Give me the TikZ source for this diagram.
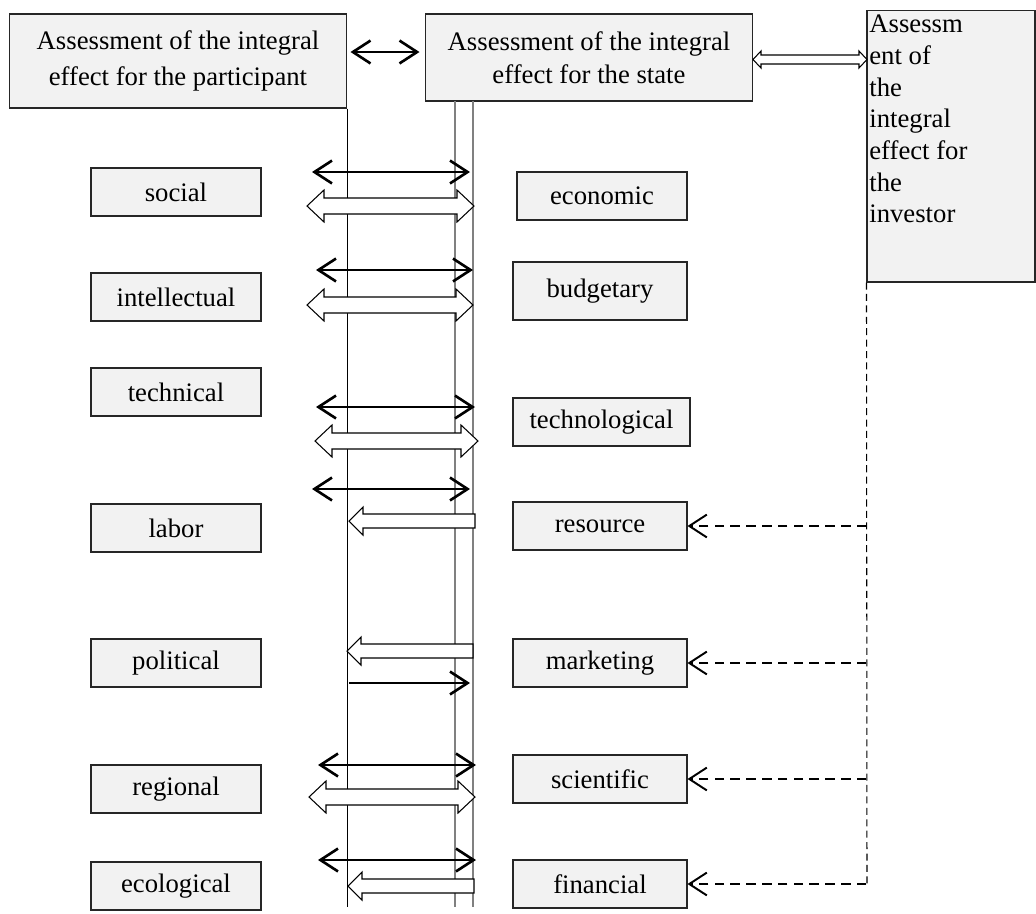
\documentclass[tikz,border=0pt]{standalone}
\usepackage{fontspec}
\setmainfont{Liberation Serif}
\usetikzlibrary{arrows.meta}

\tikzset{
  box/.style={draw=black!85, fill=black!5, line width=0.6pt, inner sep=0pt, align=center,
    font=\fontsize{15.2}{20}\selectfont},
  leftbox/.style={box, minimum width=3.4cm, minimum height=0.96cm},
  rightbox/.style={box, minimum width=3.48cm, minimum height=0.96cm},
  barb/.tip={Straight Barb[length=10pt,width=13pt]},
  twoway/.style={barb-barb, line width=1.5pt},
  oneway/.style={-barb, line width=1.5pt},
  hollow/.style={draw=black, line width=0.6pt, fill=white},
  feed/.style={-barb, dash pattern=on 5.5pt off 3.5pt, line width=1.1pt},
  guide/.style={line width=0.6pt},
}

% outline arrows: left x, right x, y
\newcommand{\hollowboth}[3]{%
  \draw[hollow] (#1,#3) -- ({#1+17},{#3-16}) -- ({#1+17},{#3-8}) -- ({#2-17},{#3-8})
    -- ({#2-17},{#3-16}) -- (#2,#3) -- ({#2-17},{#3+16}) -- ({#2-17},{#3+8})
    -- ({#1+17},{#3+8}) -- ({#1+17},{#3+16}) -- cycle;}
% tip x, tail x, y
\newcommand{\hollowleft}[3]{%
  \draw[hollow] (#1,#3) -- ({#1+14},{#3-14}) -- ({#1+14},{#3-7}) -- (#2,{#3-7})
    -- (#2,{#3+7}) -- ({#1+14},{#3+7}) -- ({#1+14},{#3+14}) -- cycle;}

\begin{document}
\begin{tikzpicture}[x=0.02cm, y=-0.02cm]
  \useasboundingbox (0,0) rectangle (1036,914);

  % top row
  \node[box, minimum width=6.76cm, minimum height=1.88cm] (part) at (178,61)
    {Assessment of the integral\\effect for the participant};
  \node[box, minimum width=6.56cm, minimum height=1.74cm, font=\fontsize{15.2}{18.5}\selectfont]
    (state) at (589,57.5) {Assessment of the integral\\effect for the state};
  \node[box, minimum width=3.36cm, minimum height=5.44cm] (inv) at (951,146) {};
  \node[anchor=north west, inner sep=0pt, align=left,
    font=\fontsize{15.2}{18}\selectfont] (invtext) at (869,15)
    {Assessm\\ent of\\the\\integral\\effect for\\the\\investor};

  % vertical guides
  \draw[guide] (part.south east) -- (part.south east |- 0,907);
  \draw[guide, gray] (455,101) -- (455,907);
  \draw[guide, gray] (473,101) -- (473,907);
  \draw[guide, dash pattern=on 4pt off 2.5pt] (inv.south west) -- (867,884);

  % left column
  \node[leftbox] (social) at (176,192) {social};
  \node[leftbox] (intel) at (176,297) {intellectual};
  \node[leftbox] (techn) at (176,392) {technical};
  \node[leftbox] (labor) at (176,528) {labor};
  \node[leftbox] (polit) at (176,663) {political};
  \node[leftbox] (region) at (176,789) {regional};
  \node[leftbox] (ecol) at (176,886) {ecological};

  % right column
  \node[rightbox, minimum width=3.4cm] (econ) at (602,196) {economic};
  \node[rightbox, minimum height=1.16cm] (budget) at (600,291) {budgetary};
  \node[rightbox, minimum width=3.54cm] (techno) at (601.5,422) {technological};
  \node[rightbox] (res) at (600,526) {resource};
  \node[rightbox] (market) at (600,663) {marketing};
  \node[rightbox] (sci) at (600,779) {scientific};
  \node[rightbox] (fin) at (600,884) {financial};

  % links between the assessments
  \draw[twoway] ([shift={(3,-9)}]part.east) -- ([shift={(-5,-5.5)}]state.west);
  \draw[hollow] (753,59.5) -- (761,51) -- (761,55) -- (859,55) -- (859,51) -- (867,59.5)
    -- (859,68) -- (859,64) -- (761,64) -- (761,68) -- cycle;

  % rows
  \draw[twoway] (312,172) -- (470,172);
  \hollowboth{307}{474}{206}
  \draw[twoway] (316,270) -- (473,270);
  \hollowboth{307}{473}{305}
  \draw[twoway] (316,407) -- (475,407);
  \hollowboth{315}{478}{441}
  \draw[twoway] (312,489) -- (470,489);
  \hollowleft{349}{475}{521}
  \hollowleft{347}{473}{651}
  \draw[oneway] (349,683) -- (470,683);
  \draw[twoway] (318,765) -- (476,765);
  \hollowboth{309}{475}{797}
  \draw[twoway] (318,860) -- (476,860);
  \hollowleft{348}{474}{886}

  % investor feeds
  \draw[feed] (inv.south west |- res.east) -- (res.east);
  \draw[feed] (inv.south west |- market.east) -- (market.east);
  \draw[feed] (inv.south west |- sci.east) -- (sci.east);
  \draw[feed] (inv.south west |- fin.east) -- (fin.east);
\end{tikzpicture}
\end{document}
